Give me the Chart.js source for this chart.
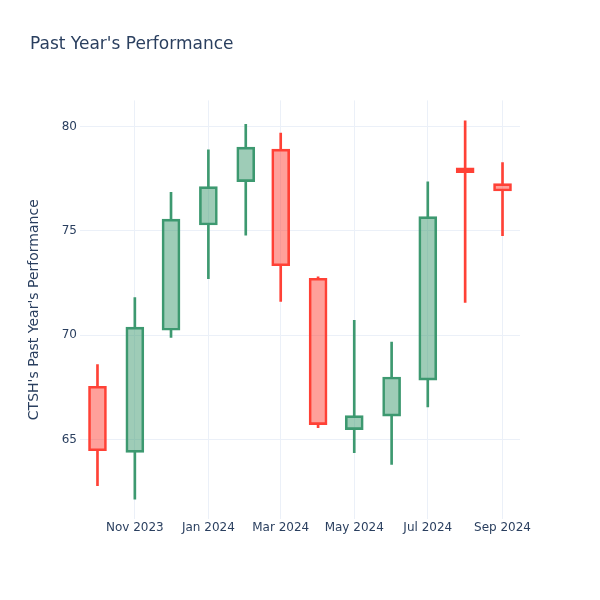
<!DOCTYPE html>
<html>
<head>
<meta charset="utf-8">
<script src="https://cdn.jsdelivr.net/npm/chart.js@4.4.1/dist/chart.umd.min.js"></script>
<style>
  html, body { margin: 0; padding: 0; background: #fff; }
</style>
</head>
<body>
<canvas id="myCanvas" width="600" height="600"></canvas>
<script>
// monthly candles, CTSH
let months = ["2023-10", "2023-11", "2023-12", "2024-01", "2024-02", "2024-03",
              "2024-04", "2024-05", "2024-06", "2024-07", "2024-08", "2024-09"]
let openV  = [67.56, 64.39, 70.24, 75.28, 77.36, 78.92, 72.73, 65.48, 66.13, 67.85, 78.02, 77.26]
let highV  = [68.60, 71.80, 76.85, 78.88, 80.10, 79.68, 72.80, 70.72, 69.68, 77.35, 80.27, 78.27]
let lowV   = [62.80, 62.15, 69.90, 72.71, 74.80, 71.62, 65.58, 64.38, 63.81, 66.57, 71.57, 74.77]
let closeV = [64.47, 70.39, 75.56, 77.12, 79.01, 73.33, 65.72, 66.15, 68.00, 75.68, 77.79, 76.91]

let yTicks = [65, 70, 75, 80]
let xTickMonths = ["2023-11", "2024-01", "2024-03", "2024-05", "2024-07", "2024-09"]
let xTickLabels = ["Nov 2023", "Jan 2024", "Mar 2024", "May 2024", "Jul 2024", "Sep 2024"]

const UP_LINE = "#3D9970", UP_FILL = "rgba(61,153,112,0.5)"
const DN_LINE = "#FF4136", DN_FILL = "rgba(255,65,54,0.5)"
const TXT = "#2a3f5f"
const GRID = "#EBF0F8"
const FONT = "'DejaVu Sans', sans-serif"

function dayOf(m) {
  let [y, mo] = m.split("-").map(Number)
  return Date.UTC(y, mo - 1, 1) / 86400000
}

let xs = months.map(dayOf)
let isUp = months.map((m, i) => closeV[i] >= openV[i])

let bodies = xs.map((x, i) => ({ x: x, y: [openV[i], closeV[i]] }))
let upperWick = xs.map((x, i) => ({ x: x, y: [Math.max(openV[i], closeV[i]), highV[i]] }))
let lowerWick = xs.map((x, i) => ({ x: x, y: [lowV[i], Math.min(openV[i], closeV[i])] }))

let lineColors = isUp.map(u => u ? UP_LINE : DN_LINE)
let fillColors = isUp.map(u => u ? UP_FILL : DN_FILL)

creaGrafico()

function creaGrafico() {
  let ctx = document.querySelector("#myCanvas").getContext("2d")

  let wick = (data) => ({
    type: "bar",
    data: data,
    grouped: false,
    barThickness: 2,
    backgroundColor: lineColors,
    borderWidth: 0,
  })

  new Chart(ctx, {
    type: "bar",
    data: {
      datasets: [
        {
          label: "CTSH",
          data: bodies,
          grouped: false,
          barThickness: 18,
          backgroundColor: fillColors,
          borderColor: lineColors,
          borderWidth: 2,
          borderSkipped: false,
        },
        wick(upperWick),
        wick(lowerWick),
      ],
    },
    options: {
      responsive: false,
      animation: false,
      layout: { padding: { left: 30, right: 80, top: 0, bottom: 0 } },
      plugins: {
        legend: { display: false },
        tooltip: { enabled: false },
        title: {
          display: true,
          text: "Past Year's Performance",
          align: "start",
          color: TXT,
          font: { family: FONT, size: 17, weight: "normal" },
          padding: { top: 34, bottom: 46 },
        },
      },
      scales: {
        x: {
          type: "linear",
          offset: false,
          min: xs[0] - 14.5,
          max: xs[xs.length - 1] + 14.5,
          afterBuildTicks: (scale) => {
            scale.ticks = xTickMonths.map(m => ({ value: dayOf(m) }))
          },
          afterFit: (scale) => { scale.height = 81 },
          ticks: {
            autoSkip: false,
            maxRotation: 0,
            padding: 2,
            color: TXT,
            font: { family: FONT, size: 12 },
            callback: (v, i) => xTickLabels[i],
          },
          grid: { color: GRID, drawTicks: false, offset: false },
          border: { display: false },
        },
        y: {
          min: 61.2,
          max: 81.25,
          afterBuildTicks: (scale) => {
            scale.ticks = yTicks.map(v => ({ value: v }))
          },
          afterFit: (scale) => { scale.width = 50 },
          ticks: {
            padding: 3,
            color: TXT,
            font: { family: FONT, size: 12 },
          },
          grid: { color: GRID, drawTicks: false },
          border: { display: false },
          title: {
            display: true,
            text: "CTSH's Past Year's Performance",
            color: TXT,
            font: { family: FONT, size: 14 },
            padding: { top: -4, bottom: 0 },
          },
        },
      },
    },
  })
}
</script>
</body>
</html>
